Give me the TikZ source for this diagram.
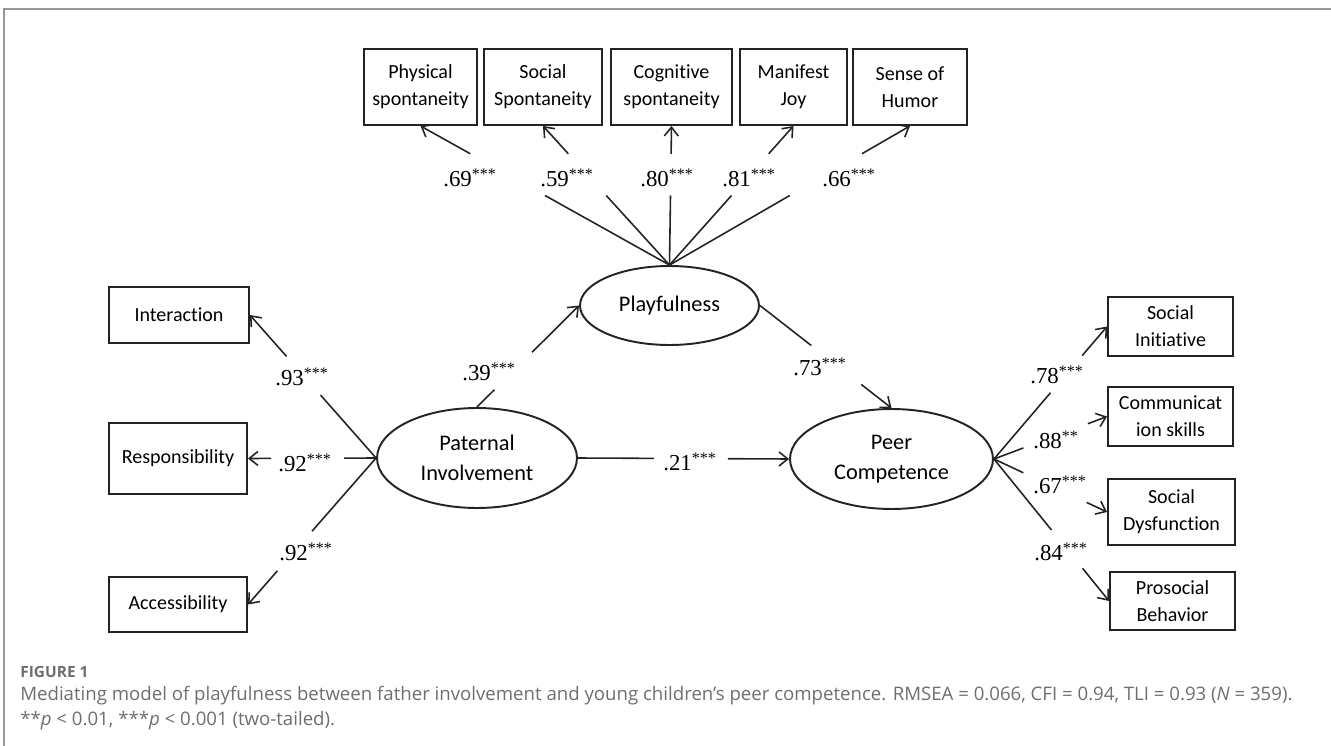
\documentclass[tikz,border=0pt]{standalone}
\usepackage{fontspec}
\setmainfont{Liberation Serif}
\newfontfamily\boxfont[Ligatures=NoCommon]{Carlito}
\newfontfamily\capfont{Open Sans}
\usepackage{tikz}
\usetikzlibrary{positioning, arrows.meta, calc, shapes.geometric}
\definecolor{lgray}{RGB}{110,110,110}
\definecolor{fgray}{RGB}{150,150,150}
\definecolor{ink}{RGB}{35,35,35}

\begin{document}
\begin{tikzpicture}[
      x=0.02cm, y=-0.02cm,
      obs/.style={draw=ink, line width=1.1pt, align=center, inner sep=2pt, font=\boxfont\fontsize{11.4}{15.3}\selectfont},
      lat/.style={draw=ink, line width=1.1pt, ellipse, align=center, inner sep=0pt, minimum width=4cm, minimum height=2cm, font=\boxfont\fontsize{12.7}{17}\selectfont},
      coef/.style={font=\fontsize{13}{15}\selectfont, inner sep=1pt},
      conn/.style={draw=ink, line width=0.9pt},
      arr/.style={conn, -{Straight Barb[length=5pt, width=8pt]}},
  ]
    \useasboundingbox (0,0) rectangle (1331,746);
    \draw[fgray, line width=1.1pt] (4,746) -- (4,9) -- (1331,9);

    % latent variables
    \node[lat, minimum width=3.58cm, minimum height=1.58cm] (play) at (669.5,305.5) {Playfulness};
    \node[lat] (pi) at (477,458) {Paternal\\Involvement};
    \node[lat, minimum width=4.06cm] (pc) at (891.5,459) {Peer\\Competence};

    % playfulness indicators
    \node[obs, minimum width=2.26cm, minimum height=1.52cm] (phys) at (420.5,87) {Physical\\spontaneity};
    \node[obs, minimum width=2.36cm, minimum height=1.52cm] (socsp) at (543,87) {Social\\Spontaneity};
    \node[obs, minimum width=2.42cm, minimum height=1.52cm] (cogsp) at (671.5,87) {Cognitive\\spontaneity};
    \node[obs, minimum width=2.14cm, minimum height=1.52cm] (joy) at (793.5,87) {Manifest\\Joy};
    \node[obs, minimum width=2.28cm, minimum height=1.52cm] (humor) at (910,87) {Sense of\\Humor};

    % involvement indicators
    \node[obs, minimum width=2.8cm, minimum height=1.12cm] (inter) at (179,315) {Interaction};
    \node[obs, minimum width=2.76cm, minimum height=1.42cm] (resp) at (178,458.5) {Responsibility};
    \node[obs, minimum width=2.76cm, minimum height=1.1cm] (access) at (178,604.5) {Accessibility};

    % competence indicators
    \node[obs, minimum width=2.5cm, minimum height=1.18cm] (init) at (1170.5,326.5) {Social\\Initiative};
    \node[obs, minimum width=2.5cm, minimum height=1.18cm] (comm) at (1170.5,416.5) {Communicat\\ion skills};
    \node[obs, minimum width=2.54cm, minimum height=1.32cm] (dysf) at (1171.5,512) {Social\\Dysfunction};
    \node[obs, minimum width=2.5cm, minimum height=1.16cm] (pros) at (1172.5,601) {Prosocial\\Behavior};

    % paths, broken where the coefficient sits
    \foreach \s/\d/\a/\b in {
        play.north/phys.south/0.5/0.8, play.north/socsp.south/0.5/0.8,
        play.north/cogsp.south/0.5/0.8, play.north/joy.south/0.5/0.8,
        play.north/humor.south/0.5/0.8,
        pi.west/inter.east/0.44/0.71, pi.west/resp.east/0.25/0.82,
        pi.west/access.east/0.5/0.77,
        pi.north/play.west/0.17/0.54, play.east/pc.north/0.39/0.77,
        pi.east/pc.west/0.36/0.71,
        pc.east/init.west/0.5/0.78, pc.east/comm.west/0.26/0.83,
        pc.east/dysf.west/0.26/0.82, pc.east/pros.west/0.5/0.77} {
      \draw[conn] (\s) -- ($(\s)!\a!(\d)$);
      \draw[arr] ($(\s)!\b!(\d)$) -- (\d);
    }

    % coefficients
    \node[coef] (c69) at (470,178) {.69\textsuperscript{***}};
    \node[coef] (c59) at (567,178) {.59\textsuperscript{***}};
    \node[coef] (c80) at (667,178) {.80\textsuperscript{***}};
    \node[coef] (c81) at (749,178) {.81\textsuperscript{***}};
    \node[coef] (c66) at (849,178) {.66\textsuperscript{***}};
    \node[coef] (c93) at (302,377) {.93\textsuperscript{***}};
    \node[coef] (c92a) at (305,463) {.92\textsuperscript{***}};
    \node[coef] (c92b) at (306,552) {.92\textsuperscript{***}};
    \node[coef] (c39) at (489,372) {.39\textsuperscript{***}};
    \node[coef] (c73) at (820,367) {.73\textsuperscript{***}};
    \node[coef] (c21) at (690,462) {.21\textsuperscript{***}};
    \node[coef] (c78) at (1057,375) {.78\textsuperscript{***}};
    \node[coef] (c88) at (1056,440) {.88\textsuperscript{**}};
    \node[coef] (c67) at (1060,485) {.67\textsuperscript{***}};
    \node[coef] (c84) at (1061,552) {.84\textsuperscript{***}};

    % caption
    \node[anchor=west, inner sep=0pt, text=lgray, font=\capfont\bfseries\fontsize{8.8}{10}\selectfont] (fig) at (20,672) {FIGURE 1};
    \node[anchor=north west, align=left, inner sep=0pt, text=lgray, font=\capfont\fontsize{10.6}{14.2}\selectfont] (cap) at (20,686)
      {Mediating model of playfulness between father involvement and young children’s peer competence. RMSEA = 0.066, CFI = 0.94, TLI = 0.93 (\textit{N} = 359).\\
       **\textit{p} < 0.01, ***\textit{p} < 0.001 (two-tailed).};
  \end{tikzpicture}
\end{document}
